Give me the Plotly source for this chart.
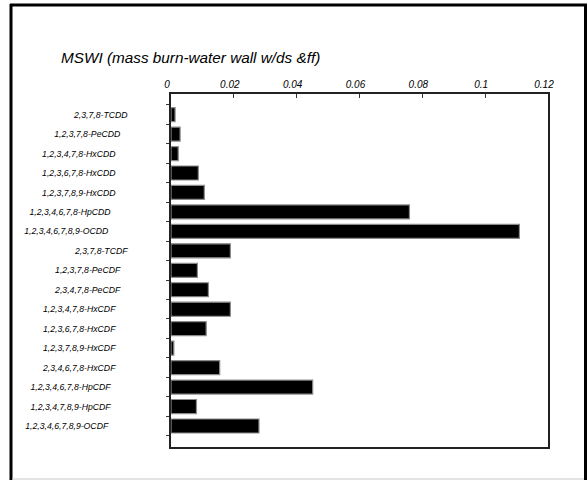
import plotly.graph_objects as go

congeners = [
    "2,3,7,8-TCDD", "1,2,3,7,8-PeCDD", "1,2,3,4,7,8-HxCDD", "1,2,3,6,7,8-HxCDD",
    "1,2,3,7,8,9-HxCDD", "1,2,3,4,6,7,8-HpCDD", "1,2,3,4,6,7,8,9-OCDD",
    "2,3,7,8-TCDF", "1,2,3,7,8-PeCDF", "2,3,4,7,8-PeCDF", "1,2,3,4,7,8-HxCDF",
    "1,2,3,6,7,8-HxCDF", "1,2,3,7,8,9-HxCDF", "2,3,4,6,7,8-HxCDF",
    "1,2,3,4,6,7,8-HpCDF", "1,2,3,4,7,8,9-HpCDF", "1,2,3,4,6,7,8,9-OCDF",
]
values = [
    0.0013, 0.0029, 0.0023, 0.0087, 0.0106, 0.0759, 0.1109,
    0.0189, 0.0084, 0.0119, 0.0189, 0.0112, 0.0009, 0.0155,
    0.0451, 0.0081, 0.0280,
]
x_ticks = [0, 0.02, 0.04, 0.06, 0.08, 0.1, 0.12]
title_text = "MSWI (mass burn-water wall w/ds &amp;ff)"

FONT = "Arial, Liberation Sans, sans-serif"

fig = go.Figure(go.Bar(
    x=values, y=congeners, orientation="h",
    marker=dict(color="black", line=dict(color="#8a8a8a", width=1.2)),
    width=0.72,
))

# plot area: x 171..548, y 94..447
L, R, T, B = 171, 40, 94, 33
W = 588 - L - R
H = 480 - T - B

def px(x):
    return (x - L) / W

def py(y):
    return (480 - B - y) / H

# labels in the source are staggered (longer ones sit further left)
y_ticktext = [c + "\u00a0" * len(c) for c in congeners]

fig.update_layout(
    width=588, height=480,
    margin=dict(l=L, r=R, t=T, b=B),
    paper_bgcolor="white", plot_bgcolor="white",
    showlegend=False,
    xaxis=dict(
        side="top", range=[0, 0.12], tickvals=x_ticks,
        ticktext=[str(v) for v in x_ticks],
        ticks="inside", ticklen=4, tickcolor="#333",
        showgrid=False, zeroline=False,
        showline=True, linecolor="#222", linewidth=1.5, mirror=True,
        tickfont=dict(family=FONT, size=10, color="black", style="italic"),
        ticklabelshift=-4,
        fixedrange=True,
    ),
    yaxis=dict(
        range=[16 + 1.08, -1.06], type="category",
        tickvals=congeners, ticktext=y_ticktext,
        ticks="outside", ticklen=3, tickcolor="#333", tickson="boundaries",
        showgrid=False, zeroline=False,
        showline=True, linecolor="#222", linewidth=1.5, mirror=True,
        tickfont=dict(family=FONT, size=8.7, color="black", style="italic"),
        ticklabelstandoff=11,
        fixedrange=True,
    ),
    annotations=[dict(
        text=title_text, xref="paper", yref="paper",
        x=px(59), y=py(58), xanchor="left", yanchor="middle",
        showarrow=False,
        font=dict(family=FONT, size=15.3, color="black", style="italic"),
    )],
    shapes=[
        dict(type="line", xref="paper", yref="paper", x0=px(11), x1=px(11),
             y0=py(4), y1=py(480), line=dict(color="black", width=3)),
        dict(type="line", xref="paper", yref="paper", x0=px(10), x1=px(587),
             y0=py(5), y1=py(5), line=dict(color="black", width=3)),
        dict(type="line", xref="paper", yref="paper", x0=px(585.5), x1=px(585.5),
             y0=py(4), y1=py(480), line=dict(color="black", width=3)),
        dict(type="line", xref="paper", yref="paper", x0=px(12), x1=px(584),
             y0=py(479), y1=py(479), line=dict(color="#c8c8c8", width=1)),
    ],
)

fig.write_html("out.html", config={"displayModeBar": False},
               post_script="document.body.style.margin='0px';")
